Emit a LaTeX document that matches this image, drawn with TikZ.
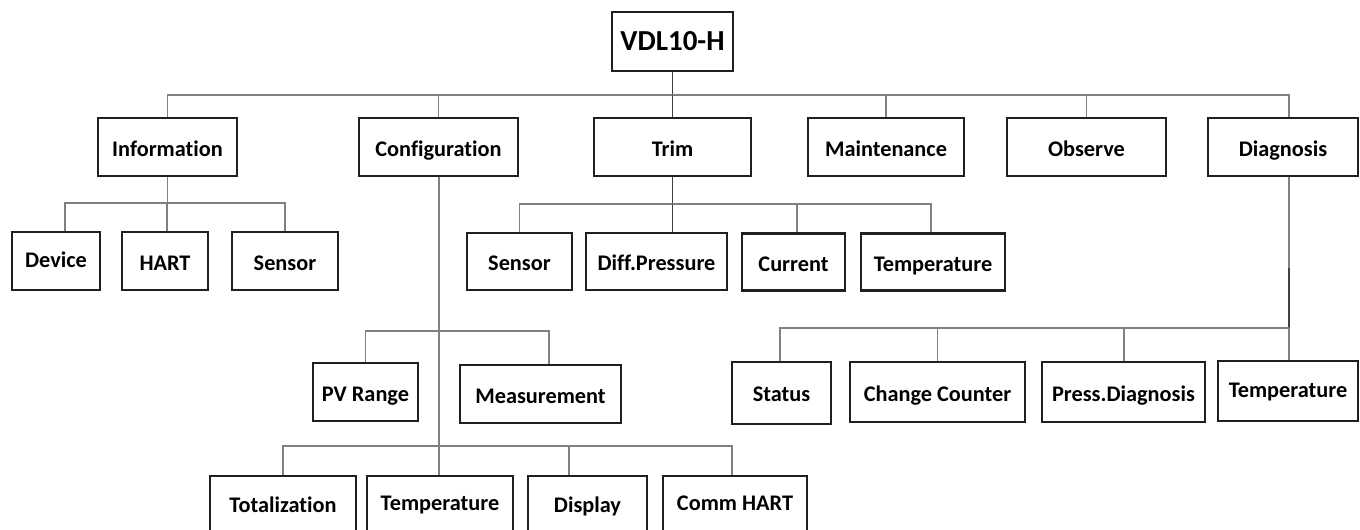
\documentclass[tikz,border=0pt]{standalone}
\usepackage{fontspec}
\setmainfont[Ligatures=NoCommon]{Carlito}
\usetikzlibrary{backgrounds}
\begin{document}
\begin{tikzpicture}[x=1pt,y=-1pt,
  bx/.style={draw=black!88, line width=2.7pt, fill=white, inner sep=0pt,
    font=\fontsize{22.3}{26}\selectfont\bfseries, text=black,
    text height=19pt, text depth=1pt},
  ln/.style={draw=black!50, line width=1.8pt},
  dk/.style={draw=black!75, line width=1.8pt}]
\useasboundingbox (0,0) rectangle (1360,530);
\clip (0,0) rectangle (1360,530);
\coordinate (rb) at (672.5,95);
\coordinate (ib) at (167.5,203);
\coordinate (tb) at (672.5,204);
\coordinate (pb) at (439,331);
\coordinate (bb) at (439,446);
\coordinate (db) at (1289,328);
\coordinate (dm) at (1289,268);
% nodes
\node[bx, minimum width=121pt, minimum height=59pt, font=\fontsize{29}{33}\selectfont\bfseries, text height=18.7pt, text depth=0pt] (root) at (672.5,41.5) {VDL10-H};
\node[bx, minimum width=139pt, minimum height=58pt] (info) at (167.5,147) {Information};
\node[bx, minimum width=159pt, minimum height=58pt] (conf) at (438.5,147) {Configuration};
\node[bx, minimum width=157pt, minimum height=58pt] (trim) at (672.5,147) {Trim};
\node[bx, minimum width=156pt, minimum height=58pt] (maint) at (886,147) {Maintenance};
\node[bx, minimum width=159pt, minimum height=58pt] (obs) at (1086.5,147) {Observe};
\node[bx, minimum width=150pt, minimum height=58pt] (diag) at (1283,147) {Diagnosis};
%
\node[bx, minimum width=88pt, minimum height=58pt] (dev) at (56,261) {\raisebox{3pt}{Device}};
\node[bx, minimum width=86pt, minimum height=58pt] (hart) at (165,261) {HART};
\node[bx, minimum width=106pt, minimum height=58pt] (sena) at (285,261) {Sensor};
%
\node[bx, minimum width=105pt, minimum height=57pt] (senb) at (519.5,261.5) {Sensor};
\node[bx, minimum width=141pt, minimum height=57pt] (diffp) at (656.5,261.5) {Diff.Pressure};
\node[bx, minimum width=103pt, minimum height=57pt] (curr) at (793.5,262) {Current};
\node[bx, minimum width=144pt, minimum height=57pt] (tempa) at (933,262) {Temperature};
%
\node[bx, minimum width=105pt, minimum height=58pt] (pvr) at (365.5,392) {PV Range};
\node[bx, minimum width=161pt, minimum height=58pt] (meas) at (540.5,394) {Measurement};
%
\node[bx, minimum width=146pt, minimum height=60pt] (tot) at (283,506) {\raisebox{3pt}{Totalization}};
\node[bx, minimum width=146pt, minimum height=60pt] (tempb) at (440,506) {\raisebox{5pt}{Temperature}};
\node[bx, minimum width=119pt, minimum height=60pt] (disp) at (587.5,506) {\raisebox{3pt}{Display}};
\node[bx, minimum width=144pt, minimum height=60pt] (comm) at (735,506) {\raisebox{5pt}{Comm HART}};
%
\node[bx, minimum width=99pt, minimum height=62pt] (stat) at (781.5,393) {\raisebox{1pt}{Status}};
\node[bx, minimum width=175pt, minimum height=60pt] (chc) at (937.5,392) {Change Counter};
\node[bx, minimum width=163pt, minimum height=60pt] (press) at (1123.5,392) {Press.Diagnosis};
\node[bx, minimum width=140pt, minimum height=60pt] (tempc) at (1288,391) {\raisebox{3pt}{Temperature}};
% connectors
\begin{scope}[on background layer]
\fill[white] (0,0) rectangle (1360,530);
\draw[dk] (root.south) -- (rb);
\draw[ln] (rb) -| (info.north);
\draw[ln] (rb) -| (conf.north);
\draw[dk] (rb) -- (trim.north);
\draw[ln] (rb) -| (maint.north);
\draw[ln] (rb) -| (obs.north);
\draw[ln] (rb) -| ([xshift=6pt]diag.north);
%
\draw[ln] (info.south) -- (ib);
\draw[ln] (ib) -| ([xshift=9pt]dev.north);
\draw[ln] (ib) -| ([xshift=2pt]hart.north);
\draw[ln] (ib) -| (sena.north);
%
\draw[dk] (trim.south) -- (tb);
\draw[ln] (tb) -| (senb.north);
\draw[dk] (tb) -- ([xshift=16pt]diffp.north);
\draw[ln] (tb) -| ([xshift=3.5pt]curr.north);
\draw[ln] (tb) -| ([xshift=-2pt]tempa.north);
%
\draw[ln] ([xshift=0.5pt]conf.south) -- (pb);
\draw[ln] (pb) -- (bb);
\draw[ln] (pb) -| (pvr.north);
\draw[ln] (pb) -| ([xshift=8.5pt]meas.north);
\draw[ln] (bb) -| (tot.north);
\draw[ln] (bb) -- ([xshift=-1pt]tempb.north);
\draw[ln] (bb) -| ([xshift=-18.5pt]disp.north);
\draw[ln] (bb) -| ([xshift=-3pt]comm.north);
%
\draw[ln] ([xshift=6pt]diag.south) -- (dm);
\draw[dk] (dm) -- (db);
\draw[ln] (db) -| ([xshift=-1.5pt]stat.north);
\draw[ln] (db) -| (chc.north);
\draw[ln] (db) -| ([xshift=0.5pt]press.north);
\draw[ln] (db) -- ([xshift=1pt]tempc.north);
\end{scope}
\end{tikzpicture}
\end{document}
